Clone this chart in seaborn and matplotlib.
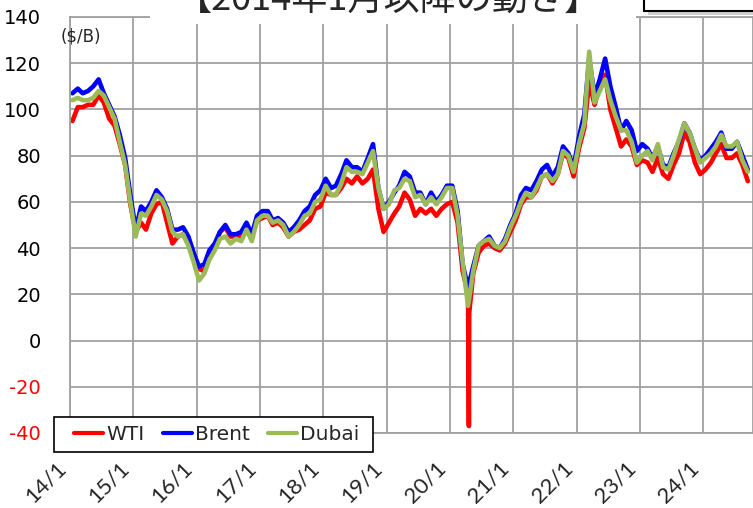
import pandas as pd
import seaborn as sns
import matplotlib
matplotlib.use('Agg')
import matplotlib.pyplot as plt
import matplotlib.transforms as mtransforms
from matplotlib.patches import Rectangle

# monthly prices ($/B), Jan 2014 - Sep 2024
brent = [107, 109, 107, 108, 110, 113, 107, 102, 97, 89, 79, 63,
         48, 58, 56, 60, 65, 62, 57, 48, 48, 49, 45, 38,
         32, 33, 39, 42, 47, 50, 46, 46, 47, 51, 46, 54,
         56, 56, 52, 53, 51, 47, 49, 52, 56, 58, 63, 65,
         70, 66, 67, 72, 78, 75, 75, 73, 79, 85, 66, 57,
         60, 64, 67, 73, 71, 64, 64, 59, 64, 60, 63, 67,
         67, 56, 33, 23, 32, 41, 43, 45, 41, 40, 44, 50,
         55, 63, 66, 65, 69, 74, 76, 71, 75, 84, 81, 75,
         88, 98, 122, 106, 113, 122, 110, 101, 91, 95, 91, 82,
         85, 83, 79, 84, 76, 75, 81, 86, 94, 90, 83, 78,
         80, 83, 86, 90, 83, 83, 86, 80, 74]
wti = [95, 101, 101, 102, 102, 106, 103, 96, 93, 85, 76, 59,
       47, 51, 48, 55, 59, 60, 51, 42, 45, 46, 42, 37,
       31, 30, 38, 41, 47, 49, 45, 45, 45, 50, 45, 52,
       53, 54, 50, 51, 49, 45, 47, 48, 50, 52, 57, 58,
       64, 63, 63, 66, 70, 68, 71, 68, 70, 74, 57, 47,
       51, 55, 58, 64, 61, 54, 57, 55, 57, 54, 57, 59,
       60, 51, 30, 20, 29, 38, 41, 42, 40, 39, 42, 47,
       52, 59, 62, 62, 65, 71, 72, 68, 72, 81, 79, 71,
       83, 92, 112, 102, 110, 115, 100, 92, 84, 87, 84, 76,
       78, 77, 73, 79, 72, 70, 76, 81, 90, 86, 77, 72,
       74, 77, 81, 85, 79, 79, 81, 76, 69]
dubai = [104, 105, 104, 104, 105, 108, 106, 101, 96, 86, 76, 60,
         45, 55, 54, 58, 63, 61, 56, 47, 45, 46, 41, 34,
         26, 29, 35, 39, 44, 45, 42, 44, 43, 48, 43, 52,
         54, 54, 51, 52, 50, 45, 47, 50, 54, 55, 60, 61,
         67, 63, 63, 68, 75, 73, 73, 72, 77, 82, 66, 57,
         59, 65, 66, 70, 69, 62, 63, 59, 62, 59, 62, 66,
         66, 54, 34, 15, 30, 41, 43, 44, 41, 40, 43, 49,
         54, 60, 64, 62, 66, 71, 72, 69, 72, 82, 80, 73,
         85, 94, 125, 103, 108, 113, 104, 97, 91, 91, 86, 77,
         80, 82, 78, 85, 75, 74, 80, 87, 94, 90, 83, 77,
         79, 81, 84, 89, 84, 84, 86, 78, 73]

# WTI went negative in April 2020
wti_spike_dates = ['2020-04-20', '2020-04-22']
wti_spike_vals = [-37, 12]

series_names = ['WTI', 'Brent', 'Dubai']
colors = {'WTI': '#FF0000', 'Brent': '#0000FF', 'Dubai': '#9BBB59'}
year_ticks = list(range(2014, 2025))
tick_labels = [f'{y % 100:02d}/1' for y in year_ticks]
y_ticks = [-40, -20, 0, 20, 40, 60, 80, 100, 120, 140]

months = pd.date_range('2014-01-01', '2024-09-01', freq='MS') + pd.Timedelta(days=14)

frames = []
for name, vals in zip(series_names, [wti, brent, dubai]):
    frames.append(pd.DataFrame({'date': months, 'price': vals, 'crude': name}))
frames.append(pd.DataFrame({'date': pd.to_datetime(wti_spike_dates),
                            'price': wti_spike_vals, 'crude': 'WTI'}))
df = pd.concat(frames).sort_values(['crude', 'date']).reset_index(drop=True)

sns.set_style('white')
plt.rcParams['font.family'] = ['DejaVu Sans', 'Noto Sans CJK JP']

fig = plt.figure(figsize=(7.53, 5.08), dpi=100)
W, H = 753, 508
ax_w, ax_h = 683, 416
ax = fig.add_axes([70 / W, 1 - 433 / H, ax_w / W, ax_h / H])

sns.lineplot(data=df, x='date', y='price', hue='crude', hue_order=series_names,
             palette=colors, linewidth=3.3, sort=True, estimator=None, ax=ax)

ax.set_xlim(pd.Timestamp('2014-01-01'), pd.Timestamp('2024-10-15'))
ax.set_ylim(-40, 140)
ax.set_yticks(y_ticks)
ax.set_yticklabels([str(v) for v in y_ticks], fontsize=14)
for lab, v in zip(ax.get_yticklabels(), y_ticks):
    lab.set_color('red' if v < 0 else 'black')
ax.set_xticks([pd.Timestamp(f'{y}-01-01') for y in year_ticks])
ax.set_xticklabels(tick_labels, rotation=45, ha='right', fontsize=16, family='Lato')
offset = mtransforms.ScaledTranslation(6 / 72, 0, fig.dpi_scale_trans)
for lab in ax.get_xticklabels():
    lab.set_transform(lab.get_transform() + offset)
ax.tick_params(axis='y', length=0, pad=21)
ax.tick_params(axis='x', length=0, pad=18)
ax.set_xlabel('')
ax.set_ylabel('')
ax.grid(True, color='#A0A0A0', linewidth=1.3)
ax.set_axisbelow(True)
for s in ax.spines.values():
    s.set_color('#A0A0A0')
    s.set_linewidth(1.3)

# legend box drawn separately (wider side padding than matplotlib's)
ax.add_patch(Rectangle((-16 / ax_w, -19 / ax_h), 319 / ax_w, 35 / ax_h,
                       transform=ax.transAxes, facecolor='white', edgecolor='black',
                       linewidth=1.2, clip_on=False, zorder=4.5))
handles, labels = ax.get_legend_handles_labels()
leg = ax.legend(handles, labels, loc='center left', bbox_to_anchor=(-2 / ax_w, -1.5 / ax_h),
                borderaxespad=0, ncol=3, fontsize=14.5, handlelength=1.45,
                handletextpad=0.15, columnspacing=0.9, frameon=False, borderpad=0.3)
for h in leg.get_lines():
    h.set_linewidth(3)

# white box behind the (cropped) title
fig.patches.append(Rectangle((150 / W, 1 - 24 / H), (636 - 150) / W, 30 / H,
                             transform=fig.transFigure, facecolor='white',
                             edgecolor='none', zorder=2))
fig.text(389 / W, 1 - 10 / H, '【2014年1月以降の動き】', ha='center', va='baseline',
         fontsize=26, family=['Noto Sans CJK JP', 'DejaVu Sans'], zorder=3)

# box in the top right corner (cropped)
fig.patches.append(Rectangle((648 / W, 1 - 15 / H), 0.2, 0.05, transform=fig.transFigure,
                             facecolor='#D0D0D0', edgecolor='none', zorder=2))
fig.patches.append(Rectangle((644 / W, 1 - 11 / H), 0.2, 0.05, transform=fig.transFigure,
                             facecolor='white', edgecolor='black', linewidth=1.5, zorder=2))

fig.text(61 / W, 1 - 37 / H, '($/B)', fontsize=12, va='center')

fig.savefig('out.png', dpi=100)
